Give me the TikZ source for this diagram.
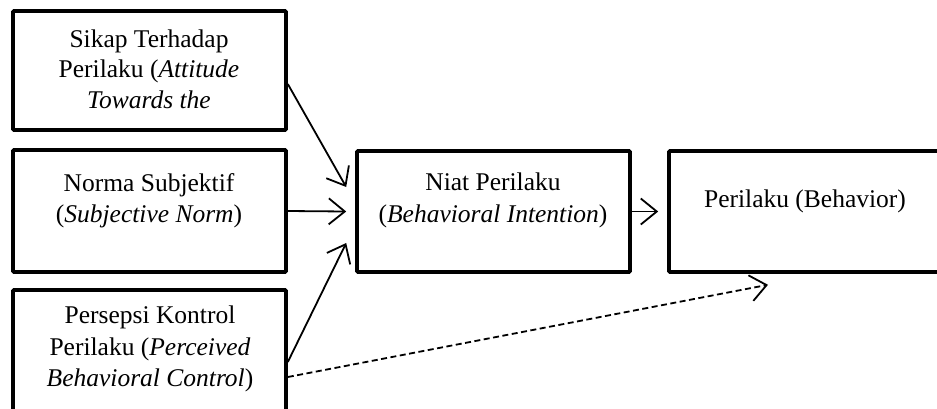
\documentclass[tikz,border=0pt]{standalone}
\usepackage{fontspec}
\setmainfont{Liberation Serif}
\usetikzlibrary{arrows.meta}
\begin{document}
\begin{tikzpicture}[x=1pt,y=-1pt,
  box/.style={draw,line width=3.6pt,rounded corners=1pt,inner sep=0pt},
  lbl/.style={align=center,inner sep=0pt,anchor=base,font=\fontsize{25.5}{31}\selectfont},
  conn/.style={line width=1.8pt,-{Straight Barb[length=16pt,width=26pt,line width=1.8pt]}}]
\useasboundingbox (0,0) rectangle (937,408);
\fill[white] (0,0) rectangle (937,408);
% boxes
\node[box,minimum width=273pt,minimum height=119pt] (b1) at (149.5,70.5) {};
\node[box,minimum width=273pt,minimum height=122pt] (b2) at (149.5,211) {};
\node[box,minimum width=273pt,minimum height=130pt] (b3) at (149.5,355) {};
\node[box,minimum width=273pt,minimum height=121pt] (n) at (493.5,211.5) {};
\node[box,minimum width=272pt,minimum height=121pt] (p) at (805,211.5) {};
% texts
\node[lbl] (t1a) at (149,47) {Sikap Terhadap};
\node[lbl] (t1b) at (149,77) {Perilaku (\textit{Attitude}};
\node[lbl] (t1c) at (149,108) {\textit{Towards the}};
\node[lbl] (t2a) at (149,191) {Norma Subjektif};
\node[lbl] (t2b) at (149,222) {(\textit{Subjective Norm})};
\node[lbl] (t3a) at (150,323) {Persepsi Kontrol};
\node[lbl] (t3b) at (150,355) {Perilaku (\textit{Perceived}};
\node[lbl] (t3c) at (150,386) {\textit{Behavioral Control})};
\node[lbl] (tna) at (493,190) {Niat Perilaku};
\node[lbl] (tnb) at (493,222) {(\textit{Behavioral Intention})};
\node[lbl] (tp) at (805,207) {Perilaku (Behavior)};
% connectors
\draw[conn] ([yshift=-13.5pt]b1.east) -- ([xshift=-9pt,yshift=24.5pt]n.west);
\draw[conn] (b2.east) -- ([xshift=-9pt]n.west);
\draw[conn] ([yshift=-7pt]b3.east) -- ([xshift=-9pt,yshift=-31.5pt]n.west);
\draw[conn] (n.east) -- ([xshift=-9pt]p.west);
\draw[conn,dash pattern=on 6pt off 3.5pt] ([yshift=-22pt]b3.east) -- ([xshift=-37pt,yshift=-11pt]p.south);
\end{tikzpicture}
\end{document}
